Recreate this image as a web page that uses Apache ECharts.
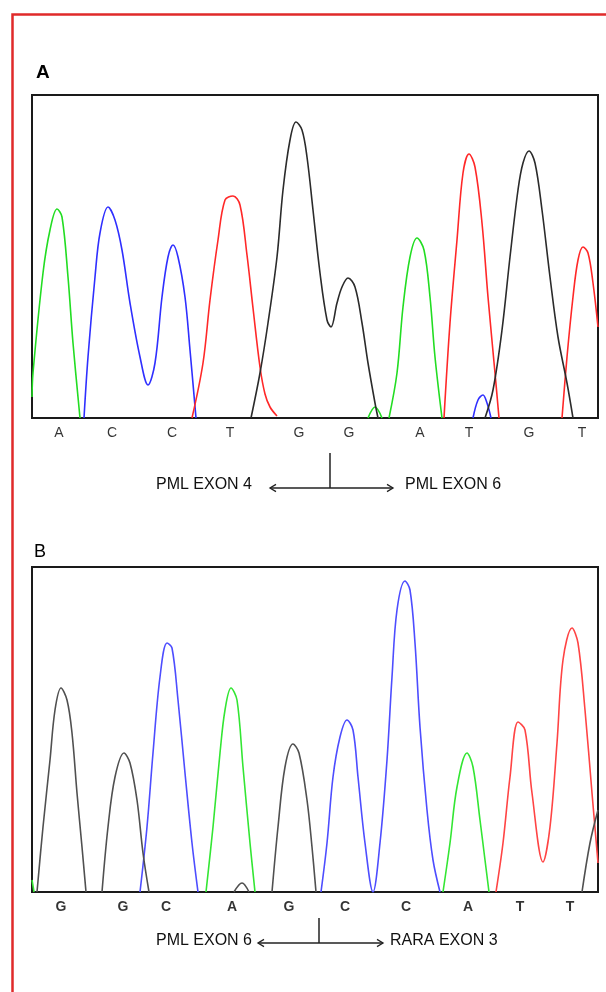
<!DOCTYPE html>
<html>
<head>
<meta charset="utf-8">
<script src="https://cdn.jsdelivr.net/npm/echarts@6/dist/echarts.min.js"></script>
<style>
  html, body { margin: 0; padding: 0; background: #fff; }
  #chart { width: 606px; height: 992px; }
</style>
</head>
<body>
<div id="chart"></div>
<script>
// base calls under each trace (x = scan position inside the trace box)
let basesA = ["A", "C", "C", "T", "G", "G", "A", "T", "G", "T"];
let basePosA = [27, 80, 140, 198, 267, 317, 388, 437, 497, 550];
let basesB = ["G", "G", "C", "A", "G", "C", "C", "A", "T", "T"];
let basePosB = [29, 91, 134, 200, 257, 313, 374, 436, 488, 538];

/* panel A traces: [scan, signal] pairs, one array per continuous stretch */
let aGreen = [
  [[0, 21], [1, 45], [11, 145], [18, 188], [25, 209], [30, 201], [36, 141], [41, 75], [48, 0]],
  [[336, 0], [343, 11], [350, 0]],
  [[357, 0], [365, 45], [371, 111], [378, 161], [385, 180], [392, 168], [398, 121], [403, 61], [410, 0]]
];
let aBlue = [
  [[52, 0], [56, 61], [63, 141], [68, 185], [76, 211], [83, 198], [90, 168], [98, 115], [108, 61], [116, 33],
   [123, 55], [130, 121], [136, 161], [141, 173], [146, 161], [153, 121], [158, 68], [164, 0]],
  [[441, 0], [446, 18], [451, 23], [455, 15], [459, 0]]
];
let aRed = [
  [[160, 0], [171, 55], [178, 118], [186, 178], [193, 218], [201, 222], [208, 213], [215, 163], [221, 110],
   [228, 51], [233, 24], [238, 11], [245, 2]],
  [[412, 0], [418, 95], [425, 178], [431, 245], [437, 264], [443, 251], [450, 195], [456, 121], [463, 45], [467, 0]],
  [[530, 0], [535, 61], [541, 121], [546, 158], [551, 171], [556, 165], [561, 135], [566, 91]]
];
let aBlack = [
  [[219, 0], [228, 45], [236, 95], [245, 161], [251, 228], [258, 278], [264, 296], [270, 288], [275, 261],
   [281, 208], [288, 145], [295, 98], [299, 91], [305, 115], [310, 131], [316, 140], [323, 131], [330, 95],
   [336, 55], [343, 15], [346, 0]],
  [[453, 0], [461, 28], [470, 88], [478, 161], [486, 228], [491, 255], [497, 267], [503, 255], [510, 208],
   [518, 141], [526, 81], [535, 35], [541, 0]]
];

/* panel B traces */
let bGreen = [
  [[0, 12], [2, 0]],
  [[174, 0], [181, 65], [188, 139], [193, 182], [199, 204], [205, 192], [211, 125], [218, 49], [223, 0]],
  [[411, 0], [418, 49], [425, 105], [435, 139], [441, 125], [448, 72], [453, 32], [457, 0]]
];
let bBlue = [
  [[108, 0], [115, 65], [121, 139], [128, 215], [135, 249], [140, 244], [146, 192], [153, 119], [160, 49], [166, 0]],
  [[289, 0], [295, 49], [301, 115], [308, 155], [315, 172], [321, 162], [326, 115], [333, 49], [341, 0],
   [348, 49], [355, 132], [360, 215], [365, 282], [373, 311], [378, 302], [383, 249], [388, 165], [395, 82],
   [401, 32], [408, 0]]
];
let bRed = [
  [[464, 0], [471, 49], [478, 115], [486, 170], [493, 162], [500, 99], [511, 30], [518, 65], [525, 149],
   [531, 232], [540, 264], [546, 249], [553, 182], [560, 99], [566, 29]]
];
let bBlack = [
  [[5, 0], [11, 65], [18, 132], [23, 182], [29, 204], [35, 192], [40, 159], [45, 99], [50, 45], [54, 0]],
  [[70, 0], [76, 65], [83, 115], [92, 139], [98, 129], [105, 92], [111, 39], [117, 0]],
  [[202, 0], [210, 9], [217, 0]],
  [[240, 0], [246, 65], [253, 125], [261, 148], [267, 139], [275, 92], [280, 45], [284, 0]],
  [[550, 0], [558, 49], [566, 82]]
];

let myChart = echarts.init(document.getElementById("chart"), null, { renderer: "canvas" });

function traceSeries(segs, color, idx) {
  return segs.map(function (seg) {
    return {
      type: "line",
      xAxisIndex: idx,
      yAxisIndex: idx,
      data: seg,
      smooth: 0.35,
      symbol: "none",
      clip: true,
      lineStyle: { color: color, width: 1.6 },
      silent: true
    };
  });
}

function baseSeries(pos, names, idx, bold) {
  return {
    type: "scatter",
    xAxisIndex: idx,
    yAxisIndex: idx,
    symbolSize: 0,
    clip: false,
    silent: true,
    data: pos.map(function (x, i) {
      return { value: [x, 0], name: names[i] };
    }),
    label: {
      show: true,
      position: "bottom",
      distance: 8,
      formatter: "{b}",
      color: "#000",
      fontFamily: "Liberation Sans",
      fontSize: 14,
      fontWeight: bold ? "bold" : "normal"
    }
  };
}

/* junction annotation: text - arrow - text with a tick at the break point */
function junction(textY, arrowY, leftText, leftEnd, x1, x2, tickX, tickTop, rightStart, rightText) {
  let head = 6;
  return [
    { type: "text", style: { text: leftText, x: leftEnd, y: textY, align: "right", verticalAlign: "middle",
        font: "16px 'Liberation Sans'", fill: "#111" } },
    { type: "text", style: { text: rightText, x: rightStart, y: textY, align: "left", verticalAlign: "middle",
        font: "16px 'Liberation Sans'", fill: "#111" } },
    { type: "line", shape: { x1: x1, y1: arrowY, x2: x2, y2: arrowY }, style: { stroke: "#222", lineWidth: 1.3 } },
    { type: "polyline", shape: { points: [[x1 + head, arrowY - head * 0.6], [x1, arrowY], [x1 + head, arrowY + head * 0.6]] },
      style: { stroke: "#222", lineWidth: 1.3, fill: null } },
    { type: "polyline", shape: { points: [[x2 - head, arrowY - head * 0.6], [x2, arrowY], [x2 - head, arrowY + head * 0.6]] },
      style: { stroke: "#222", lineWidth: 1.3, fill: null } },
    { type: "line", shape: { x1: tickX, y1: tickTop, x2: tickX, y2: arrowY }, style: { stroke: "#222", lineWidth: 1.5 } }
  ];
}

let series = []
  .concat(traceSeries(aGreen, "#22dd22", 0))
  .concat(traceSeries(aBlue, "#2f2fff", 0))
  .concat(traceSeries(aRed, "#ff2828", 0))
  .concat(traceSeries(aBlack, "#2b2b2b", 0))
  .concat(traceSeries(bGreen, "#33e633", 1))
  .concat(traceSeries(bBlue, "#4d4dff", 1))
  .concat(traceSeries(bRed, "#ff4444", 1))
  .concat(traceSeries(bBlack, "#505050", 1));
series.push(baseSeries(basePosA, basesA, 0, false));
series.push(baseSeries(basePosB, basesB, 1, true));

let option = {
  animation: false,
  backgroundColor: "#fff",
  grid: [
    { left: 32, top: 95, width: 566, height: 323, show: true, borderColor: "#1a1a1a", borderWidth: 2, backgroundColor: "#fff" },
    { left: 32, top: 567, width: 566, height: 325, show: true, borderColor: "#1a1a1a", borderWidth: 2, backgroundColor: "#fff" }
  ],
  xAxis: [
    { type: "value", gridIndex: 0, min: 0, max: 566, show: false },
    { type: "value", gridIndex: 1, min: 0, max: 566, show: false }
  ],
  yAxis: [
    { type: "value", gridIndex: 0, min: 0, max: 323, show: false },
    { type: "value", gridIndex: 1, min: 0, max: 325, show: false }
  ],
  graphic: [
    { type: "rect", shape: { x: 12.5, y: 14.5, width: 700, height: 1100 }, style: { fill: null, stroke: "#e02a2a", lineWidth: 2.5 }, silent: true },
    { type: "text", style: { text: "A", x: 36, y: 73, verticalAlign: "middle", font: "bold 19px 'Liberation Sans'", fill: "#000" } },
    { type: "text", style: { text: "B", x: 34, y: 552, verticalAlign: "middle", font: "18px 'Liberation Sans'", fill: "#000" } }
  ]
    .concat(junction(485, 488, "PML EXON 4", 252, 270, 393, 330, 453, 405, "PML EXON 6"))
    .concat(junction(941, 943, "PML EXON 6", 252, 258, 383, 319, 918, 390, "RARA EXON 3")),
  series: series
};
myChart.setOption(option);
</script>
</body>
</html>
